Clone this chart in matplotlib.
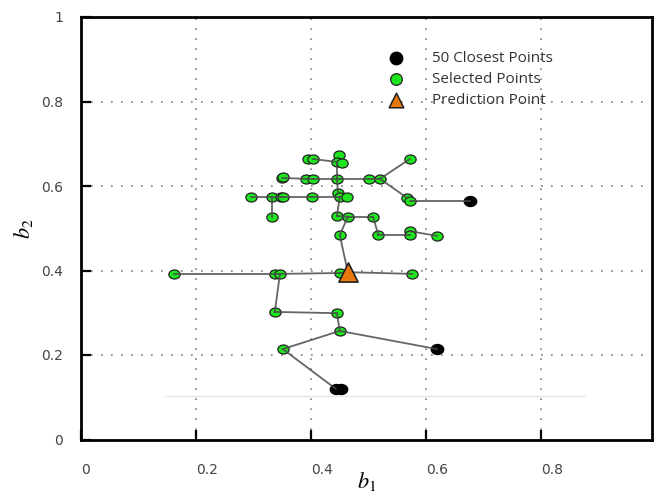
import numpy as np
import matplotlib
matplotlib.use("Agg")
import matplotlib.pyplot as plt
from matplotlib.path import Path

plt.rcParams['mathtext.fontset'] = 'stix'

# selected points (green)
sel_x = [0.395, 0.403, 0.449, 0.445, 0.454, 0.350, 0.351, 0.391, 0.403, 0.445,
         0.501, 0.520, 0.572, 0.296, 0.332, 0.348, 0.351, 0.402, 0.447, 0.450,
         0.463, 0.567, 0.572, 0.332, 0.445, 0.464, 0.508, 0.450, 0.517, 0.572,
         0.572, 0.619, 0.162, 0.337, 0.346, 0.450, 0.576, 0.337, 0.445, 0.450,
         0.351]
sel_y = [0.664, 0.664, 0.673, 0.657, 0.655, 0.619, 0.621, 0.617, 0.617, 0.617,
         0.617, 0.617, 0.664, 0.574, 0.574, 0.574, 0.574, 0.574, 0.583, 0.574,
         0.574, 0.572, 0.564, 0.527, 0.529, 0.527, 0.527, 0.484, 0.484, 0.493,
         0.484, 0.482, 0.392, 0.392, 0.392, 0.394, 0.392, 0.302, 0.299, 0.257,
         0.214]

# remaining closest points (black)
close_x = [0.677, 0.619, 0.443, 0.452]
close_y = [0.564, 0.214, 0.120, 0.120]

# prediction point
pred_x = [0.464]
pred_y = [0.396]

# links between points, indices into sel + close + pred
edges = [(1, 3), (3, 9), (9, 18),
         (5, 7), (7, 8), (8, 9), (9, 10), (10, 11), (11, 12), (11, 21), (22, 41),
         (13, 14), (14, 15), (15, 16), (16, 17), (17, 19), (14, 23),
         (19, 24), (24, 25), (25, 26), (26, 28), (28, 30), (29, 31),
         (25, 27), (27, 45),
         (32, 34), (34, 35), (35, 45), (45, 36),
         (34, 37), (37, 38), (38, 39), (39, 42), (39, 40), (40, 43)]

all_x = np.array(sel_x + close_x + pred_x)
all_y = np.array(sel_y + close_y + pred_y)

# slightly wide ellipse marker
circ = Path.unit_circle()
oval = Path(circ.vertices * [1.25, 1.0], circ.codes)

fig = plt.figure(figsize=(6.55, 4.97), dpi=100)
ax = fig.add_axes([81 / 655, 57.5 / 497, 571 / 655, 422.5 / 497])

ax.set_xlim(0, 0.993)
ax.set_ylim(0, 1)

ticks = [0.2, 0.4, 0.6, 0.8]
for t in ticks:
    ax.axvline(t, color='#808080', lw=1.2, ls=(0, (1, 5)), zorder=0)
    ax.axhline(t, color='#808080', lw=1.2, ls=(0, (1, 5)), zorder=0)

# faint baseline
ax.plot([0.146, 0.877], [0.103, 0.103], color='#e6e6e6', lw=1, zorder=0)

ax.scatter(close_x, close_y, s=80, marker=oval, c='black', edgecolors='black',
           zorder=2)
ax.scatter(sel_x, sel_y, s=66, marker=oval, c='#1ee61e', edgecolors='#222222',
           linewidths=0.9, zorder=2)

for a, b in edges:
    ax.plot([all_x[a], all_x[b]], [all_y[a], all_y[b]], color='#4a4a4a',
            lw=1.3, alpha=0.85, zorder=3)

ax.scatter(pred_x, pred_y, s=190, marker='^', c='#e8780c', edgecolors='#222222',
           linewidths=1.2, zorder=4)

# legend
h1 = ax.scatter([], [], s=80, marker='o', c='black')
h2 = ax.scatter([], [], s=70, marker='o', c='#1ee61e', edgecolors='#222222',
                linewidths=0.9)
h3 = ax.scatter([], [], s=110, marker='^', c='#e8780c', edgecolors='#222222',
                linewidths=1.1)
leg = ax.legend([h1, h2, h3], ['50 Closest Points', 'Selected Points', 'Prediction Point'],
                loc='upper left', bbox_to_anchor=(0.515, 0.935), frameon=False,
                prop={'family': 'Open Sans', 'size': 11}, labelspacing=0.42,
                handletextpad=1.3, borderaxespad=0)
for txt in leg.get_texts():
    txt.set_color('#333333')

ax.set_xticks([0, 0.2, 0.4, 0.6, 0.8])
ax.set_xticklabels(['0', '0.2', '0.4', '0.6', '0.8'])
ax.set_yticks([0, 0.2, 0.4, 0.6, 0.8, 1.0])
ax.set_yticklabels(['0', '0.2', '0.4', '0.6', '0.8', '1'])
ax.tick_params(direction='in', length=7, width=1.6, colors='black',
               labelcolor='#444444', labelsize=10)
ax.tick_params(axis='x', pad=17)
ax.tick_params(axis='y', pad=13)
for lbl in ax.get_xticklabels():
    lbl.set_horizontalalignment('left')
for sp in ax.spines.values():
    sp.set_linewidth(2)

ax.set_xlabel('$b_1$', fontsize=16, labelpad=-5)
ax.set_ylabel('$b_2$', fontsize=16, labelpad=4)

fig.savefig('out.png', dpi=100)
